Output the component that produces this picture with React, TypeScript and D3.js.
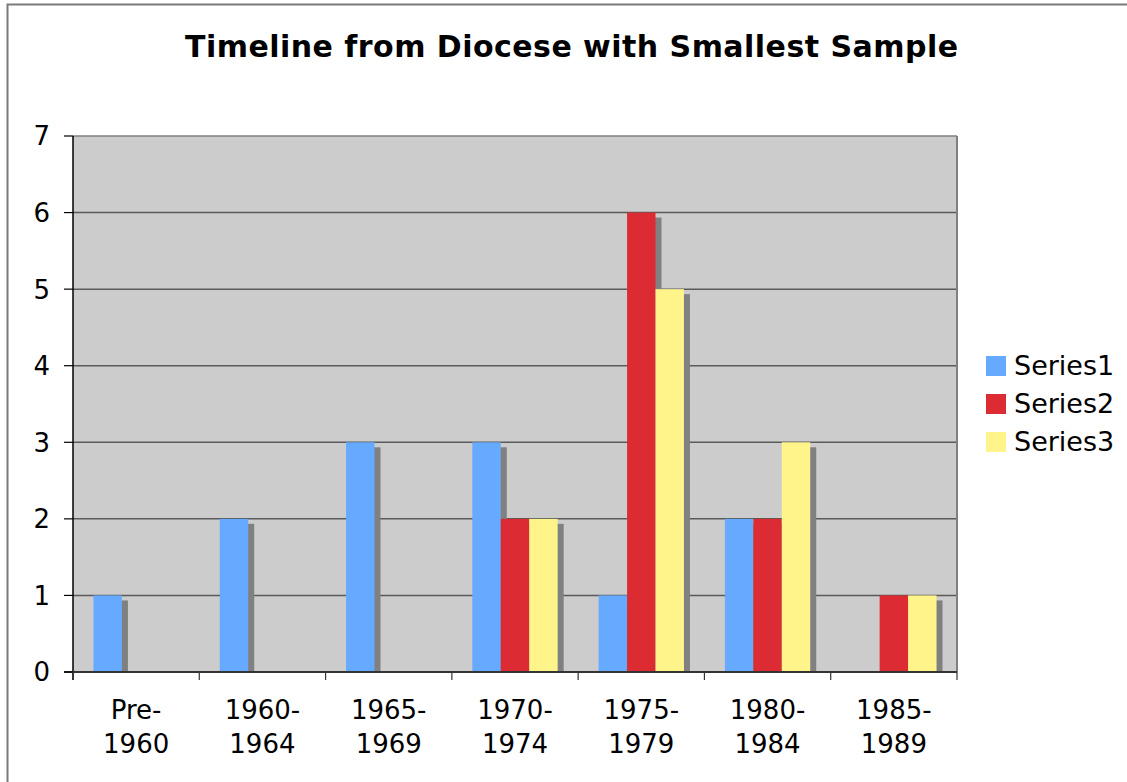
import React from "react";
import * as d3 from "d3";

const categories = [["Pre-", "1960"], ["1960-", "1964"], ["1965-", "1969"], ["1970-", "1974"], ["1975-", "1979"], ["1980-", "1984"], ["1985-", "1989"]];
const seriesNames = ["Series1", "Series2", "Series3"];
const series1 = [1, 2, 3, 3, 1, 2, 0];
const series2 = [0, 0, 0, 2, 6, 2, 1];
const series3 = [0, 0, 0, 2, 5, 3, 1];
const seriesColors = ["#66aaff", "#dd2b33", "#fff48a"];
const yTicks = [0, 1, 2, 3, 4, 5, 6, 7];
const title = "Timeline from Diocese with Smallest Sample";

const W = 1127;
const H = 782;
const plot = { left: 73, right: 957, top: 136, bottom: 672 };
const FONT = "'DejaVu Sans', Verdana, sans-serif";

export default function App() {
  const values = [series1, series2, series3];
  const catKeys = categories.map((c) => c.join(""));
  const x0 = d3.scaleBand<string>().domain(catKeys).range([plot.left, plot.right]).padding(0);
  const bw = x0.bandwidth();
  const x1 = d3.scaleBand<string>().domain(seriesNames).range([0, bw]).paddingInner(0).paddingOuter(0.72);
  const y = d3.scaleLinear().domain([0, 7]).range([plot.bottom, plot.top]);
  const sdx = 6;
  const sdy = 5;

  const bars: { k: string; x: number; w: number; top: number; color: string }[] = [];
  values.forEach((vals, si) => {
    vals.forEach((v, ci) => {
      if (v <= 0) return;
      bars.push({
        k: `${si}-${ci}`,
        x: (x0(catKeys[ci]) as number) + (x1(seriesNames[si]) as number),
        w: x1.bandwidth(),
        top: y(v),
        color: seriesColors[si],
      });
    });
  });

  const boundaries = catKeys.map((k) => x0(k) as number).concat([plot.right]);

  return (
    <svg width={W} height={H} style={{ position: "absolute", left: 0, top: 0, background: "#fff" }}>
      <rect x={7.5} y={4.5} width={W + 20} height={H + 20} fill="#fff" stroke="#7a7a7a" strokeWidth={2} />
      <text x={571.5} y={57} textAnchor="middle" fontFamily={FONT} fontWeight="bold" fontSize={30} fill="#000" textLength={773} lengthAdjust="spacing">
        {title}
      </text>
      <rect x={plot.left} y={plot.top} width={plot.right - plot.left} height={plot.bottom - plot.top} fill="#cccccc" />
      {yTicks.filter((t) => t > 0 && t < 7).map((t) => (
        <line key={`g${t}`} x1={plot.left} x2={plot.right} y1={y(t)} y2={y(t)} stroke="#5a5a5a" strokeWidth={1.5} />
      ))}
      <line x1={plot.left} x2={plot.right} y1={plot.top} y2={plot.top} stroke="#808080" strokeWidth={1.5} />
      <line x1={plot.right} x2={plot.right} y1={plot.top} y2={plot.bottom} stroke="#808080" strokeWidth={2} />
      {bars.map((b) => (
        <rect key={`s${b.k}`} x={b.x + sdx} y={b.top + sdy} width={b.w} height={plot.bottom - b.top - sdy} fill="#808080" />
      ))}
      {bars.map((b) => (
        <rect key={`b${b.k}`} x={b.x} y={b.top} width={b.w} height={plot.bottom - b.top} fill={b.color} />
      ))}
      <line x1={plot.left} x2={plot.left} y1={plot.top} y2={plot.bottom + 8} stroke="#000" strokeWidth={1.5} />
      <line x1={plot.left - 9} x2={plot.right} y1={plot.bottom} y2={plot.bottom} stroke="#333" strokeWidth={2} />
      {yTicks.map((t) => (
        <g key={`yt${t}`}>
          <line x1={plot.left - 9} x2={plot.left} y1={y(t)} y2={y(t)} stroke="#000" strokeWidth={1.2} />
          <text x={50} y={y(t)} dy="0.36em" textAnchor="end" fontFamily={FONT} fontSize={26} fill="#000">
            {t}
          </text>
        </g>
      ))}
      {boundaries.map((bx, i) => (
        <line key={`xt${i}`} x1={bx} x2={bx} y1={plot.bottom} y2={plot.bottom + 8} stroke="#333" strokeWidth={1.2} />
      ))}
      {categories.map((c, i) => {
        const cx = (x0(catKeys[i]) as number) + bw / 2;
        return (
          <text key={`cl${i}`} textAnchor="middle" fontFamily={FONT} fontSize={26} fill="#000">
            <tspan x={cx} y={719}>{c[0]}</tspan>
            <tspan x={cx} y={753}>{c[1]}</tspan>
          </text>
        );
      })}
      {seriesNames.map((s, i) => (
        <g key={`lg${s}`}>
          <rect x={986} y={356 + i * 38} width={20} height={20} fill={seriesColors[i]} />
          <text x={1014} y={375 + i * 38} fontFamily={FONT} fontSize={27} fill="#000">
            {s}
          </text>
        </g>
      ))}
    </svg>
  );
}
